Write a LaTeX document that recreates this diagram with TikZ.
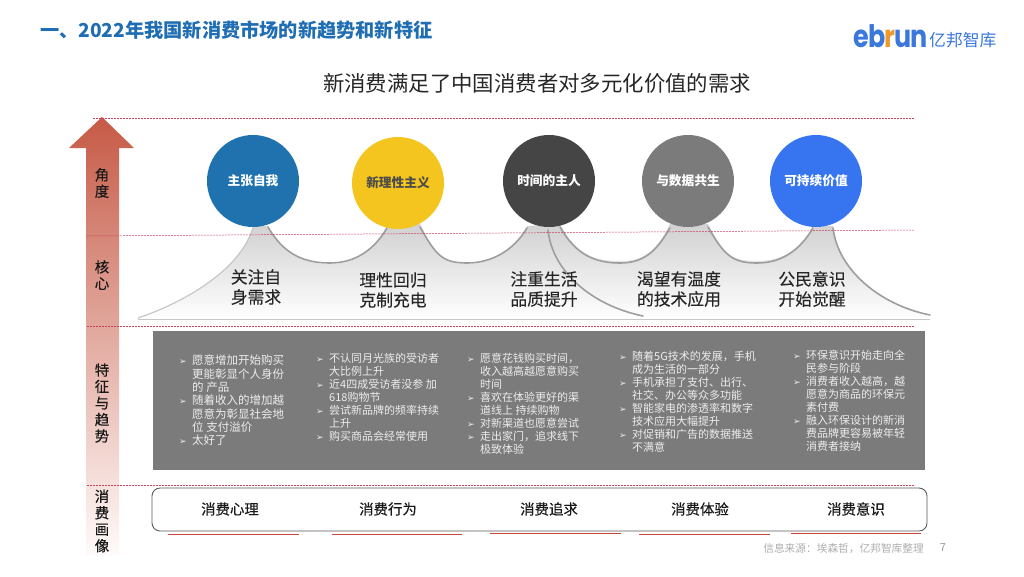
\documentclass[tikz,border=0pt]{standalone}
\usepackage{fontspec}
\usepackage{graphicx}
\setmainfont{Noto Sans CJK SC}
\newfontfamily\logofont{Poppins}
\newfontfamily\bulfont{DejaVu Sans}
\newfontfamily\medfont[FakeBold=0.35]{Noto Sans CJK SC}
\newfontfamily\softfont[FakeBold=0.12]{Noto Sans CJK SC}
\usetikzlibrary{shapes.geometric}
\definecolor{titleblue}{HTML}{1F6DB2}
\definecolor{logoblue}{HTML}{3B78DC}
\definecolor{logoorange}{HTML}{EE9A2B}
\definecolor{dashred}{HTML}{C8415F}
\definecolor{linered}{HTML}{C9453C}
\definecolor{panelgray}{HTML}{7B7B7B}
\definecolor{arrowtop}{HTML}{C65A46}
\definecolor{arrowmid}{HTML}{F0CAC2}
\definecolor{arrowend}{HTML}{FFFBFA}
\newcommand\bul{\makebox[13pt][l]{\bulfont\fontsize{9}{9}\selectfont ➢}}
\newcommand\nob{\hspace*{13pt}}
\tikzset{
  bubble/.style={circle,minimum size=92pt,inner sep=0pt,text=white,font=\fontsize{12.7}{14}\selectfont\bfseries},
  sidelabel/.style={align=center,inner sep=0pt,text=black!90,font=\medfont\fontsize{14.5}{16.5}\selectfont},
  corelabel/.style={align=center,inner sep=0pt,text=black!85,font=\softfont\fontsize{16.8}{20}\selectfont},
  listcol/.style={anchor=north west,align=left,inner sep=0pt,text=black!7,font=\fontsize{11}{13}\selectfont},
  footlabel/.style={inner sep=0pt,text=black!90,font=\medfont\fontsize{14.4}{16}\selectfont},
  dashline/.style={dashed,dash pattern=on 2pt off 1pt,dashred,line width=0.5pt},
  redline/.style={linered,line width=0.9pt},
  swoosh/.style={black!38,line width=1.6pt,line cap=round},
}
\begin{document}
\begin{tikzpicture}[x=1pt,y=-1pt]
    \useasboundingbox (0,0) rectangle (1024,576);
    \node[anchor=west,inner sep=0pt,text=titleblue,font=\fontsize{19.2}{21}\selectfont\bfseries] (title) at (40,30) {一、2022年我国新消费市场的新趋势和新特征};
    \node[anchor=west,inner sep=0pt,text=logoblue,font=\logofont\fontsize{31}{32}\selectfont\bfseries] (logoword) at (853,36) {\scalebox{0.82}[1]{e\kern-1pt b\kern-1pt\textcolor{logoorange}{r}\kern-1pt u\kern-1pt n}};
    \node[anchor=west,inner sep=0pt,text=logoblue,font=\fontsize{16.8}{18}\selectfont] (logotext) at (929,40) {亿邦智库};
    \node[inner sep=0pt,text=black!85,font=\fontsize{21.4}{23}\selectfont] (heading) at (537,83) {新消费满足了中国消费者对多元化价值的需求};
    \shade[top color=arrowtop,middle color=arrowmid,bottom color=arrowend]
        (102,117) -- (134,148) -- (119,148) -- (119,555) -- (86,555) -- (86,148) -- (69,148) -- cycle;
    \shade[top color=black!18,bottom color=white]
        (138,318) .. controls (185,302) and (240,270) .. (253,226)
        -- (268,226) .. controls (284,255) and (305,264) .. (330,264) .. controls (355,264) and (374,250) .. (387,226)
        -- (420,224) .. controls (436,255) and (442,264) .. (467,264) .. controls (492,264) and (514,250) .. (527,226)
        -- (560,224) .. controls (576,255) and (595,261) .. (620,261) .. controls (645,261) and (657,250) .. (670,224)
        -- (708,224) .. controls (724,255) and (732,261) .. (757,261) .. controls (782,261) and (800,250) .. (813,226)
        -- (833,226) .. controls (838,270) and (880,305) .. (930,316) -- (930,319) -- (138,319) -- cycle;
    \draw[black!22,line width=1.2pt,line cap=round] (138,318) .. controls (185,302) and (240,270) .. (253,228);
    \foreach \a/\b/\c in {268/330/387,420/467/527,560/620/670,708/757/813}
        \draw[swoosh] (\a,227) .. controls (\a+16,255) and (\b-25,263) .. (\b,263) .. controls (\b+25,263) and (\c-13,250) .. (\c,228);
    \draw[swoosh] (548,230) .. controls (552,270) and (590,305) .. (643,316);
    \draw[swoosh] (833,228) .. controls (838,270) and (880,305) .. (930,315);
    \draw[black!22,line width=0.6pt] (138,319) -- (930,319);
    \draw[dashline] (93,118) -- (915,118);
    \draw[dashline] (87,236) -- (915,230);
    \draw[dashline] (87,326) -- (915,326);
    \draw[dashline] (87,485) -- (915,485);
    \node[bubble,fill={rgb,255:red,31;green,114;blue,174}] (zhangziwo) at (253,181) {主张自我};
    \node[bubble,fill={rgb,255:red,244;green,197;blue,31},text=black!70] (lixing) at (398,183) {\raisebox{2pt}{新理性主义}};
    \node[bubble,fill=black!73] (shijian) at (549,181) {时间的主人};
    \node[bubble,fill=panelgray] (shuju) at (688,181) {与数据共生};
    \node[bubble,fill={rgb,255:red,55;green,117;blue,240}] (chixu) at (816,181) {可持续价值};
    \node[sidelabel] (jiaodu) at (102,183) {角\\度};
    \node[sidelabel] (hexin) at (102,275) {核\\心};
    \node[sidelabel] (tezheng) at (102,403) {特\\征\\与\\趋\\势};
    \node[sidelabel] (huaxiang) at (102,521) {消\\费\\画\\像};
    \node[corelabel] (core1) at (256,287) {关注自\\身需求};
    \node[corelabel] (core2) at (393,290) {理性回归\\克制充电};
    \node[corelabel] (core3) at (544,289) {注重生活\\品质提升};
    \node[corelabel] (core4) at (679,289) {渴望有温度\\的技术应用};
    \node[corelabel] (core5) at (812,289) {公民意识\\开始觉醒};
    \fill[panelgray] (153,331) rectangle (925,470);
    \node[listcol,font=\fontsize{11.5}{13.3}\selectfont] (list1) at (179,355) {\bul 愿意增加开始购买\\\nob 更能彰显个人身份\\\nob 的 产品\\\bul 随着收入的增加越\\\nob 愿意为彰显社会地\\\nob 位 支付溢价\\\bul 太好了};
    \node[listcol] (list2) at (316,353) {\bul 不认同月光族的受访者\\\nob 大比例上升\\\bul 近4四成受访者没参 加\\\nob 618购物节\\\bul 尝试新品牌的频率持续\\\nob 上升\\\bul 购买商品会经常使用};
    \node[listcol] (list3) at (467,353) {\bul 愿意花钱购买时间，\\\nob 收入越高越愿意购买\\\nob 时间\\\bul 喜欢在体验更好的渠\\\nob 道线上 持续购物\\\bul 对新渠道也愿意尝试\\\bul 走出家门，追求线下\\\nob 极致体验};
    \node[listcol] (list4) at (619,351) {\bul 随着5G技术的发展，手机\\\nob 成为生活的一部分\\\bul 手机承担了支付、出行、\\\nob 社交、办公等众多功能\\\bul 智能家电的渗透率和数字\\\nob 技术应用大幅提升\\\bul 对促销和广告的数据推送\\\nob 不满意};
    \node[listcol] (list5) at (793,350) {\bul 环保意识开始走向全\\\nob 民参与阶段\\\bul 消费者收入越高，越\\\nob 愿意为商品的环保元\\\nob 素付费\\\bul 融入环保设计的新消\\\nob 费品牌更容易被年轻\\\nob 消费者接纳};
    \draw[redline] (168,534) -- (299,534);
    \draw[redline] (332,534) -- (462,534);
    \draw[redline] (490,533) -- (621,533);
    \draw[redline] (639,534) -- (770,534);
    \draw[redline] (791,533) -- (921,533);
    \draw[black!65,line width=0.9pt,rounded corners=8pt,fill=white] (152,488) rectangle (927,531);
    \node[footlabel] (foot1) at (230,509) {消费心理};
    \node[footlabel] (foot2) at (388,509) {消费行为};
    \node[footlabel] (foot3) at (549,509) {消费追求};
    \node[footlabel] (foot4) at (700,509) {消费体验};
    \node[footlabel] (foot5) at (856,509) {消费意识};
    \node[anchor=east,inner sep=0pt,text=black!32,font=\fontsize{10.7}{12}\selectfont] (source) at (924,549) {信息来源：埃森哲，亿邦智库整理};
    \node[inner sep=0pt,text=black!40,font=\fontsize{11}{12}\selectfont] (pagenum) at (943,548) {7};
\end{tikzpicture}
\end{document}
